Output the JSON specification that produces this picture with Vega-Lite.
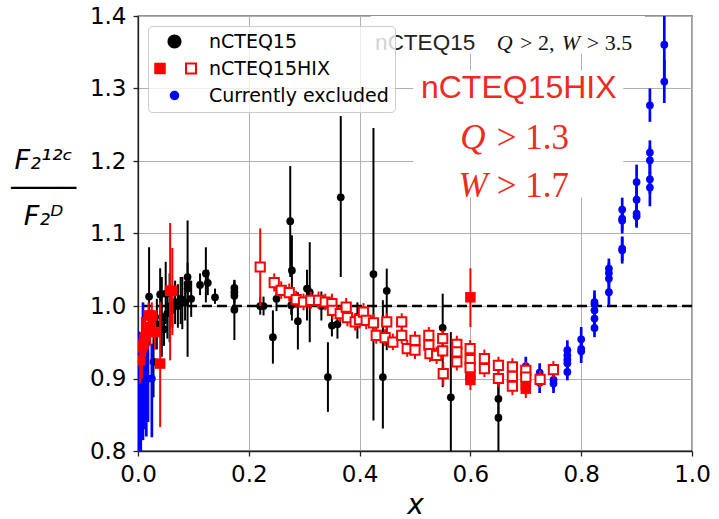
{
  "$schema": "https://vega.github.io/schema/vega-lite/v6.json",
  "width": 554,
  "height": 435,
  "autosize": {"type": "none"},
  "padding": {"left": 138, "top": 16, "right": 27, "bottom": 68},
  "background": "white",
  "config": {
    "font": "DejaVu Sans",
    "view": {"stroke": "#222222", "strokeWidth": 1.3},
    "axis": {
      "labelFont": "DejaVu Sans",
      "labelFontSize": 23,
      "labelColor": "#000000",
      "labelPadding": 7,
      "labelFlush": false,
      "labelOverlap": false,
      "tickSize": 5,
      "tickWidth": 1.3,
      "tickColor": "#222222",
      "domainColor": "#222222",
      "domainWidth": 1.3,
      "grid": true,
      "gridColor": "#b0b0b0",
      "gridWidth": 1,
      "titleColor": "#000000",
      "titleFont": "DejaVu Sans",
      "titleFontStyle": "italic",
      "titleFontWeight": "normal"
    }
  },
  "datasets": {
    "refline": [{"y": 1.0}],
    "black": [
      {"x": 0.020, "y": 1.013, "lo": 0.946, "hi": 1.081},
      {"x": 0.028, "y": 0.923, "lo": 0.874, "hi": 0.985},
      {"x": 0.034, "y": 0.975, "lo": 0.940, "hi": 1.010},
      {"x": 0.040, "y": 1.016, "lo": 0.970, "hi": 1.052},
      {"x": 0.043, "y": 0.985, "lo": 0.930, "hi": 1.040},
      {"x": 0.047, "y": 0.968, "lo": 0.945, "hi": 0.990},
      {"x": 0.050, "y": 1.017, "lo": 0.975, "hi": 1.061},
      {"x": 0.053, "y": 0.990, "lo": 0.955, "hi": 1.025},
      {"x": 0.057, "y": 1.000, "lo": 0.950, "hi": 1.045},
      {"x": 0.062, "y": 0.995, "lo": 0.970, "hi": 1.020},
      {"x": 0.067, "y": 1.005, "lo": 0.975, "hi": 1.035},
      {"x": 0.072, "y": 1.000, "lo": 0.970, "hi": 1.030},
      {"x": 0.077, "y": 1.010, "lo": 0.975, "hi": 1.040},
      {"x": 0.080, "y": 1.008, "lo": 0.968, "hi": 1.040},
      {"x": 0.085, "y": 1.005, "lo": 0.980, "hi": 1.030},
      {"x": 0.0895, "y": 1.040, "lo": 1.020, "hi": 1.060},
      {"x": 0.0895, "y": 1.031, "lo": 0.930, "hi": 1.118},
      {"x": 0.0895, "y": 1.024, "lo": 1.000, "hi": 1.045},
      {"x": 0.096, "y": 1.010, "lo": 0.985, "hi": 1.035},
      {"x": 0.112, "y": 1.029, "lo": 1.015, "hi": 1.045},
      {"x": 0.1225, "y": 1.045, "lo": 1.005, "hi": 1.081},
      {"x": 0.126, "y": 1.032, "lo": 1.015, "hi": 1.050},
      {"x": 0.139, "y": 1.012, "lo": 1.003, "hi": 1.024},
      {"x": 0.174, "y": 1.025, "lo": 1.012, "hi": 1.036},
      {"x": 0.174, "y": 1.019, "lo": 1.005, "hi": 1.033},
      {"x": 0.174, "y": 1.014, "lo": 0.995, "hi": 1.030},
      {"x": 0.174, "y": 0.995, "lo": 0.953, "hi": 1.036},
      {"x": 0.2206, "y": 1.000, "lo": 0.988, "hi": 1.013},
      {"x": 0.2266, "y": 1.000, "lo": 0.987, "hi": 1.013},
      {"x": 0.2435, "y": 0.957, "lo": 0.9205, "hi": 0.994},
      {"x": 0.250, "y": 1.010, "lo": 0.993, "hi": 1.028},
      {"x": 0.2748, "y": 1.117, "lo": 1.040, "hi": 1.193},
      {"x": 0.2778, "y": 1.049, "lo": 0.980, "hi": 1.0975},
      {"x": 0.2765, "y": 1.001, "lo": 0.988, "hi": 1.014},
      {"x": 0.2886, "y": 0.979, "lo": 0.940, "hi": 1.019},
      {"x": 0.305, "y": 1.024, "lo": 0.980, "hi": 1.050},
      {"x": 0.310, "y": 1.019, "lo": 0.950, "hi": 1.088},
      {"x": 0.331, "y": 1.000, "lo": 0.980, "hi": 1.020},
      {"x": 0.3428, "y": 0.902, "lo": 0.854, "hi": 0.950},
      {"x": 0.350, "y": 0.973, "lo": 0.958, "hi": 0.990},
      {"x": 0.360, "y": 0.975, "lo": 0.955, "hi": 1.000},
      {"x": 0.366, "y": 1.150, "lo": 1.040, "hi": 1.262},
      {"x": 0.396, "y": 0.985, "lo": 0.955, "hi": 1.005},
      {"x": 0.425, "y": 1.044, "lo": 0.842, "hi": 1.2455},
      {"x": 0.442, "y": 0.902, "lo": 0.831, "hi": 1.008},
      {"x": 0.449, "y": 1.021, "lo": 0.939, "hi": 1.0516},
      {"x": 0.550, "y": 0.970, "lo": 0.888, "hi": 1.017},
      {"x": 0.5647, "y": 0.874, "lo": 0.780, "hi": 0.964},
      {"x": 0.6506, "y": 0.872, "lo": 0.840, "hi": 0.905},
      {"x": 0.6506, "y": 0.846, "lo": 0.780, "hi": 0.905}
    ],
    "blue": [
      {"x": 0.001, "y": 0.850, "lo": 0.750, "hi": 0.965},
      {"x": 0.003, "y": 0.880, "lo": 0.780, "hi": 0.950},
      {"x": 0.005, "y": 0.860, "lo": 0.800, "hi": 0.940},
      {"x": 0.009, "y": 0.910, "lo": 0.815, "hi": 1.005},
      {"x": 0.012, "y": 0.900, "lo": 0.830, "hi": 0.970},
      {"x": 0.015, "y": 0.900, "lo": 0.820, "hi": 0.966},
      {"x": 0.018, "y": 0.900, "lo": 0.840, "hi": 0.960},
      {"x": 0.025, "y": 0.900, "lo": 0.819, "hi": 0.948},
      {"x": 0.700, "y": 0.917, "lo": 0.903, "hi": 0.930},
      {"x": 0.700, "y": 0.905, "lo": 0.890, "hi": 0.920},
      {"x": 0.725, "y": 0.908, "lo": 0.895, "hi": 0.921},
      {"x": 0.725, "y": 0.894, "lo": 0.880, "hi": 0.908},
      {"x": 0.750, "y": 0.898, "lo": 0.885, "hi": 0.912},
      {"x": 0.750, "y": 0.893, "lo": 0.880, "hi": 0.906},
      {"x": 0.775, "y": 0.939, "lo": 0.926, "hi": 0.9527},
      {"x": 0.775, "y": 0.932, "lo": 0.919, "hi": 0.945},
      {"x": 0.775, "y": 0.926, "lo": 0.913, "hi": 0.939},
      {"x": 0.775, "y": 0.921, "lo": 0.908, "hi": 0.934},
      {"x": 0.775, "y": 0.909, "lo": 0.8975, "hi": 0.921},
      {"x": 0.800, "y": 0.954, "lo": 0.940, "hi": 0.971},
      {"x": 0.800, "y": 0.941, "lo": 0.928, "hi": 0.955},
      {"x": 0.800, "y": 0.9375, "lo": 0.9214, "hi": 0.952},
      {"x": 0.824, "y": 1.0055, "lo": 0.992, "hi": 1.0216},
      {"x": 0.824, "y": 1.0023, "lo": 0.988, "hi": 1.016},
      {"x": 0.824, "y": 0.994, "lo": 0.980, "hi": 1.008},
      {"x": 0.824, "y": 0.9826, "lo": 0.969, "hi": 0.996},
      {"x": 0.824, "y": 0.9697, "lo": 0.957, "hi": 0.983},
      {"x": 0.850, "y": 1.0516, "lo": 1.038, "hi": 1.0654},
      {"x": 0.850, "y": 1.0455, "lo": 1.031, "hi": 1.060},
      {"x": 0.850, "y": 1.0378, "lo": 1.024, "hi": 1.052},
      {"x": 0.850, "y": 1.019, "lo": 1.001, "hi": 1.037},
      {"x": 0.874, "y": 1.133, "lo": 1.117, "hi": 1.1495},
      {"x": 0.874, "y": 1.1205, "lo": 1.104, "hi": 1.137},
      {"x": 0.874, "y": 1.118, "lo": 1.100, "hi": 1.135},
      {"x": 0.874, "y": 1.079, "lo": 1.062, "hi": 1.096},
      {"x": 0.874, "y": 1.077, "lo": 1.0585, "hi": 1.095},
      {"x": 0.900, "y": 1.171, "lo": 1.150, "hi": 1.195},
      {"x": 0.900, "y": 1.1467, "lo": 1.127, "hi": 1.166},
      {"x": 0.900, "y": 1.1275, "lo": 1.110, "hi": 1.147},
      {"x": 0.900, "y": 1.1237, "lo": 1.108, "hi": 1.140},
      {"x": 0.924, "y": 1.2768, "lo": 1.254, "hi": 1.300},
      {"x": 0.924, "y": 1.2116, "lo": 1.193, "hi": 1.2285},
      {"x": 0.924, "y": 1.201, "lo": 1.183, "hi": 1.220},
      {"x": 0.924, "y": 1.1747, "lo": 1.155, "hi": 1.195},
      {"x": 0.924, "y": 1.1633, "lo": 1.1375, "hi": 1.185},
      {"x": 0.950, "y": 1.3605, "lo": 1.310, "hi": 1.420},
      {"x": 0.950, "y": 1.3095, "lo": 1.280, "hi": 1.340}
    ],
    "redFilled": [
      {"x": 0.004, "y": 0.925, "lo": 0.893, "hi": 0.960},
      {"x": 0.007, "y": 0.943, "lo": 0.900, "hi": 0.985},
      {"x": 0.010, "y": 0.948, "lo": 0.920, "hi": 0.980},
      {"x": 0.013, "y": 0.957, "lo": 0.930, "hi": 0.985},
      {"x": 0.019, "y": 0.987, "lo": 0.965, "hi": 1.005},
      {"x": 0.022, "y": 0.971, "lo": 0.945, "hi": 0.995},
      {"x": 0.025, "y": 0.987, "lo": 0.965, "hi": 1.005},
      {"x": 0.031, "y": 0.964, "lo": 0.940, "hi": 0.990},
      {"x": 0.040, "y": 0.9206, "lo": 0.833, "hi": 1.0055},
      {"x": 0.058, "y": 1.021, "lo": 0.925, "hi": 1.1145},
      {"x": 0.062, "y": 1.021, "lo": 0.960, "hi": 1.080},
      {"x": 0.600, "y": 1.012, "lo": 0.971, "hi": 1.052},
      {"x": 0.600, "y": 0.905, "lo": 0.890, "hi": 0.920},
      {"x": 0.600, "y": 0.898, "lo": 0.884, "hi": 0.912},
      {"x": 0.700, "y": 0.8906, "lo": 0.877, "hi": 0.905},
      {"x": 0.700, "y": 0.886, "lo": 0.873, "hi": 0.900}
    ],
    "redOpen": [
      {"x": 0.2206, "y": 1.0538, "lo": 1.000, "hi": 1.107},
      {"x": 0.2459, "y": 1.0323, "lo": 1.020, "hi": 1.045},
      {"x": 0.2585, "y": 1.0217, "lo": 1.010, "hi": 1.034},
      {"x": 0.273, "y": 1.0185, "lo": 1.006, "hi": 1.031},
      {"x": 0.2856, "y": 1.0088, "lo": 0.997, "hi": 1.021},
      {"x": 0.2988, "y": 1.0055, "lo": 0.994, "hi": 1.017},
      {"x": 0.312, "y": 1.0079, "lo": 0.996, "hi": 1.020},
      {"x": 0.3259, "y": 1.0079, "lo": 0.996, "hi": 1.020},
      {"x": 0.338, "y": 1.0055, "lo": 0.994, "hi": 1.017},
      {"x": 0.350, "y": 1.0033, "lo": 0.990, "hi": 1.017},
      {"x": 0.351, "y": 0.994, "lo": 0.982, "hi": 1.006},
      {"x": 0.365, "y": 0.9895, "lo": 0.978, "hi": 1.001},
      {"x": 0.3758, "y": 0.9986, "lo": 0.986, "hi": 1.011},
      {"x": 0.378, "y": 0.984, "lo": 0.972, "hi": 0.996},
      {"x": 0.392, "y": 0.978, "lo": 0.966, "hi": 0.990},
      {"x": 0.3998, "y": 0.9812, "lo": 0.969, "hi": 0.993},
      {"x": 0.407, "y": 0.9917, "lo": 0.980, "hi": 1.004},
      {"x": 0.4119, "y": 0.9803, "lo": 0.968, "hi": 0.992},
      {"x": 0.425, "y": 0.9766, "lo": 0.965, "hi": 0.989},
      {"x": 0.430, "y": 0.9596, "lo": 0.948, "hi": 0.971},
      {"x": 0.446, "y": 0.9564, "lo": 0.945, "hi": 0.968},
      {"x": 0.449, "y": 0.978, "lo": 0.966, "hi": 0.990},
      {"x": 0.460, "y": 0.9503, "lo": 0.939, "hi": 0.962},
      {"x": 0.476, "y": 0.978, "lo": 0.966, "hi": 0.990},
      {"x": 0.476, "y": 0.9596, "lo": 0.948, "hi": 0.971},
      {"x": 0.486, "y": 0.9413, "lo": 0.930, "hi": 0.953},
      {"x": 0.500, "y": 0.9527, "lo": 0.941, "hi": 0.965},
      {"x": 0.500, "y": 0.939, "lo": 0.927, "hi": 0.951},
      {"x": 0.525, "y": 0.9596, "lo": 0.948, "hi": 0.971},
      {"x": 0.525, "y": 0.946, "lo": 0.934, "hi": 0.958},
      {"x": 0.527, "y": 0.9344, "lo": 0.923, "hi": 0.946},
      {"x": 0.539, "y": 0.932, "lo": 0.920, "hi": 0.944},
      {"x": 0.550, "y": 0.955, "lo": 0.943, "hi": 0.967},
      {"x": 0.550, "y": 0.938, "lo": 0.926, "hi": 0.950},
      {"x": 0.551, "y": 0.9068, "lo": 0.890, "hi": 0.923},
      {"x": 0.5755, "y": 0.947, "lo": 0.935, "hi": 0.959},
      {"x": 0.5755, "y": 0.9366, "lo": 0.925, "hi": 0.948},
      {"x": 0.5755, "y": 0.9228, "lo": 0.911, "hi": 0.935},
      {"x": 0.5995, "y": 0.9413, "lo": 0.929, "hi": 0.953},
      {"x": 0.5995, "y": 0.926, "lo": 0.914, "hi": 0.938},
      {"x": 0.5995, "y": 0.915, "lo": 0.903, "hi": 0.927},
      {"x": 0.6253, "y": 0.9275, "lo": 0.915, "hi": 0.940},
      {"x": 0.6253, "y": 0.9137, "lo": 0.902, "hi": 0.926},
      {"x": 0.6506, "y": 0.918, "lo": 0.906, "hi": 0.930},
      {"x": 0.6506, "y": 0.900, "lo": 0.888, "hi": 0.912},
      {"x": 0.6758, "y": 0.9159, "lo": 0.904, "hi": 0.928},
      {"x": 0.6758, "y": 0.903, "lo": 0.891, "hi": 0.915},
      {"x": 0.6758, "y": 0.8893, "lo": 0.877, "hi": 0.901},
      {"x": 0.700, "y": 0.9113, "lo": 0.899, "hi": 0.923},
      {"x": 0.700, "y": 0.902, "lo": 0.890, "hi": 0.914},
      {"x": 0.7258, "y": 0.8989, "lo": 0.887, "hi": 0.911},
      {"x": 0.7498, "y": 0.9123, "lo": 0.900, "hi": 0.924}
    ],
    "boxes": [
      {"x": 0.42, "x2": 0.915, "y": 1.348, "y2": 1.4},
      {"x": 0.497, "x2": 0.876, "y": 1.15, "y2": 1.325}
    ],
    "annSansBlack": [{"x": 0.428, "y": 1.3537, "text": "nCTEQ15"}],
    "annSerifItalicBlack": [
      {"x": 0.6476, "y": 1.3537, "text": "Q"},
      {"x": 0.7649, "y": 1.3537, "text": "W"}
    ],
    "annSerifBlack": [
      {"x": 0.6897, "y": 1.3537, "text": "> 2,"},
      {"x": 0.81, "y": 1.3537, "text": "> 3.5"}
    ],
    "annSansRed": [{"x": 0.6873, "y": 1.2874, "text": "nCTEQ15HIX"}],
    "annSerifItalicRed": [
      {"x": 0.5815, "y": 1.2171, "text": "Q"},
      {"x": 0.5785, "y": 1.1503, "text": "W"}
    ],
    "annSerifRed": [
      {"x": 0.6476, "y": 1.2171, "text": "> 1.3"},
      {"x": 0.6476, "y": 1.1503, "text": "> 1.7"}
    ],
    "legend": [
      {"series": "nCTEQ15"},
      {"series": "nCTEQ15HIX"},
      {"series": "Currently excluded"}
    ]
  },
  "layer": [
    {
      "data": {"name": "boxes"},
      "mark": {"type": "rect", "fill": "white", "strokeWidth": 0, "clip": true},
      "encoding": {
        "x": {
          "field": "x", "type": "quantitative",
          "scale": {"domain": [0, 1], "nice": false, "zero": false},
          "axis": {
            "values": [0, 0.2, 0.4, 0.6, 0.8, 1.0],
            "format": ".1f",
            "title": "x",
            "titleFontSize": 28,
            "titleBaseline": "alphabetic",
            "titleY": 62
          }
        },
        "x2": {"field": "x2"},
        "y": {
          "field": "y", "type": "quantitative",
          "scale": {"domain": [0.8, 1.4], "nice": false, "zero": false},
          "axis": {
            "values": [0.8, 0.9, 1.0, 1.1, 1.2, 1.3, 1.4],
            "format": ".1f",
            "title": ["F₂¹²ᶜ", "────", "F₂ᴰ"],
            "titleAngle": 0,
            "titleAlign": "center",
            "titleBaseline": "alphabetic",
            "titleFontSize": 27,
            "titleLineHeight": 28,
            "titleX": -95,
            "titleY": 152
          }
        },
        "y2": {"field": "y2"}
      }
    },
    {
      "data": {"name": "refline"},
      "mark": {"type": "rule", "color": "black", "strokeWidth": 2.7, "strokeDash": [10, 5]},
      "encoding": {"y": {"field": "y", "type": "quantitative"}}
    },
    {
      "data": {"name": "black"},
      "mark": {"type": "rule", "color": "black", "strokeWidth": 2, "clip": true},
      "encoding": {
        "x": {"field": "x", "type": "quantitative"},
        "y": {"field": "lo", "type": "quantitative"},
        "y2": {"field": "hi"}
      }
    },
    {
      "data": {"name": "black"},
      "mark": {"type": "point", "shape": "circle", "filled": true, "color": "black", "size": 60, "opacity": 1, "clip": true},
      "encoding": {
        "x": {"field": "x", "type": "quantitative"},
        "y": {"field": "y", "type": "quantitative"}
      }
    },
    {
      "data": {"name": "blue"},
      "mark": {"type": "rule", "color": "#0000ff", "strokeWidth": 2.7, "clip": true},
      "encoding": {
        "x": {"field": "x", "type": "quantitative"},
        "y": {"field": "lo", "type": "quantitative"},
        "y2": {"field": "hi"}
      }
    },
    {
      "data": {"name": "blue"},
      "mark": {"type": "point", "shape": "circle", "filled": true, "color": "#0000ff", "size": 60, "opacity": 1, "clip": true},
      "encoding": {
        "x": {"field": "x", "type": "quantitative"},
        "y": {"field": "y", "type": "quantitative"}
      }
    },
    {
      "data": {"name": "redFilled"},
      "mark": {"type": "rule", "color": "#ff0000", "strokeWidth": 2, "clip": true},
      "encoding": {
        "x": {"field": "x", "type": "quantitative"},
        "y": {"field": "lo", "type": "quantitative"},
        "y2": {"field": "hi"}
      }
    },
    {
      "data": {"name": "redFilled"},
      "mark": {"type": "point", "shape": "square", "filled": true, "color": "#ff0000", "size": 110, "opacity": 1, "clip": true},
      "encoding": {
        "x": {"field": "x", "type": "quantitative"},
        "y": {"field": "y", "type": "quantitative"}
      }
    },
    {
      "data": {"name": "redOpen"},
      "mark": {"type": "rule", "color": "#ff0000", "strokeWidth": 2, "clip": true},
      "encoding": {
        "x": {"field": "x", "type": "quantitative"},
        "y": {"field": "lo", "type": "quantitative"},
        "y2": {"field": "hi"}
      }
    },
    {
      "data": {"name": "redOpen"},
      "mark": {"type": "point", "shape": "square", "filled": true, "fill": "white", "stroke": "#ff0000", "strokeWidth": 2, "size": 85, "opacity": 1, "clip": true},
      "encoding": {
        "x": {"field": "x", "type": "quantitative"},
        "y": {"field": "y", "type": "quantitative"}
      }
    },
    {
      "data": {"name": "annSansBlack"},
      "mark": {"type": "text", "font": "Liberation Sans", "fontSize": 22.5, "color": "#222222", "align": "left", "baseline": "alphabetic"},
      "encoding": {
        "x": {"field": "x", "type": "quantitative"},
        "y": {"field": "y", "type": "quantitative"},
        "text": {"field": "text"}
      }
    },
    {
      "data": {"name": "annSerifItalicBlack"},
      "mark": {"type": "text", "font": "Liberation Serif", "fontStyle": "italic", "fontSize": 22, "color": "#111111", "align": "left", "baseline": "alphabetic"},
      "encoding": {
        "x": {"field": "x", "type": "quantitative"},
        "y": {"field": "y", "type": "quantitative"},
        "text": {"field": "text"}
      }
    },
    {
      "data": {"name": "annSerifBlack"},
      "mark": {"type": "text", "font": "Liberation Serif", "fontSize": 22, "color": "#111111", "align": "left", "baseline": "alphabetic"},
      "encoding": {
        "x": {"field": "x", "type": "quantitative"},
        "y": {"field": "y", "type": "quantitative"},
        "text": {"field": "text"}
      }
    },
    {
      "data": {"name": "annSansRed"},
      "mark": {"type": "text", "font": "Liberation Sans", "fontSize": 32, "color": "#ee2b1f", "align": "center", "baseline": "alphabetic"},
      "encoding": {
        "x": {"field": "x", "type": "quantitative"},
        "y": {"field": "y", "type": "quantitative"},
        "text": {"field": "text"}
      }
    },
    {
      "data": {"name": "annSerifItalicRed"},
      "mark": {"type": "text", "font": "Liberation Serif", "fontStyle": "italic", "fontSize": 35, "color": "#ee2b1f", "align": "left", "baseline": "alphabetic"},
      "encoding": {
        "x": {"field": "x", "type": "quantitative"},
        "y": {"field": "y", "type": "quantitative"},
        "text": {"field": "text"}
      }
    },
    {
      "data": {"name": "annSerifRed"},
      "mark": {"type": "text", "font": "Liberation Serif", "fontSize": 35, "color": "#ee2b1f", "align": "left", "baseline": "alphabetic"},
      "encoding": {
        "x": {"field": "x", "type": "quantitative"},
        "y": {"field": "y", "type": "quantitative"},
        "text": {"field": "text"}
      }
    },
    {
      "data": {"name": "legend"},
      "mark": {"type": "point", "filled": true, "opacity": 0, "strokeWidth": 0},
      "encoding": {
        "fill": {
          "field": "series", "type": "nominal",
          "scale": {"domain": ["nCTEQ15", "nCTEQ15HIX", "Currently excluded"], "range": ["#000000", "#ff0000", "#0000ff"]},
          "legend": {
            "title": null,
            "orient": "none",
            "legendX": 10,
            "legendY": 10,
            "fillColor": "rgba(255,255,255,0.8)",
            "strokeColor": "#cccccc",
            "cornerRadius": 4,
            "padding": 6,
            "symbolSize": 4,
            "symbolStrokeWidth": 0,
            "symbolOpacity": 1,
            "symbolOffset": 12,
            "labelOffset": 24,
            "labelFont": "DejaVu Sans",
            "labelFontSize": 19,
            "labelColor": "#000000",
            "labelLimit": 400,
            "rowPadding": 7
          }
        },
        "shape": {
          "field": "series", "type": "nominal",
          "scale": {
            "domain": ["nCTEQ15", "nCTEQ15HIX", "Currently excluded"],
            "range": [
              "M-8,0A7,7,0,1,0,6,0A7,7,0,1,0,-8,0Z",
              "M-21.25,-5.75H-9.75V5.75H-21.25ZM9.5,-6H21.5V6H9.5ZM11.5,-4V4H19.5V-4Z",
              "M-5.7,0A4.7,4.7,0,1,0,3.7,0A4.7,4.7,0,1,0,-5.7,0Z"
            ]
          },
          "legend": {
            "title": null,
            "orient": "none",
            "legendX": 10,
            "legendY": 10,
            "fillColor": "rgba(255,255,255,0.8)",
            "strokeColor": "#cccccc",
            "cornerRadius": 4,
            "padding": 6,
            "symbolSize": 4,
            "symbolStrokeWidth": 0,
            "symbolOpacity": 1,
            "symbolOffset": 12,
            "labelOffset": 24,
            "labelFont": "DejaVu Sans",
            "labelFontSize": 19,
            "labelColor": "#000000",
            "labelLimit": 400,
            "rowPadding": 7
          }
        }
      }
    }
  ]
}
